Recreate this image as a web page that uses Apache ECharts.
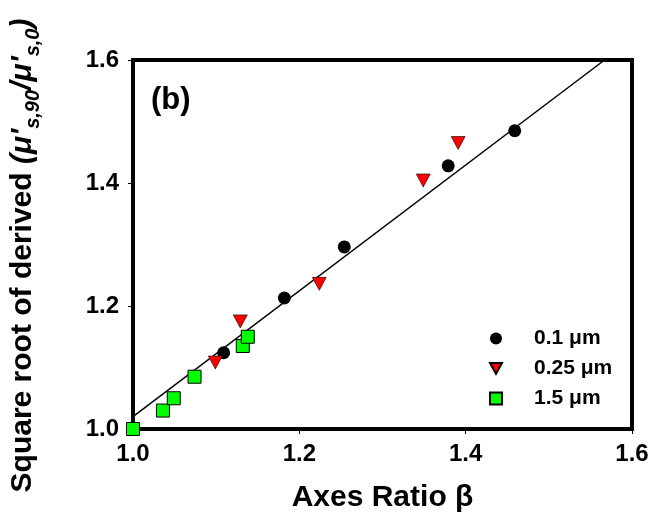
<!DOCTYPE html>
<html>
<head>
<meta charset="utf-8">
<script src="https://cdn.jsdelivr.net/npm/echarts@6/dist/echarts.min.js"></script>
<style>
  html, body { margin: 0; padding: 0; background: #fff; }
  #chart { width: 653px; height: 527px; }
</style>
</head>
<body>
<div id="chart"></div>
<script>
// Axes ratio (beta) vs. square root of derived scattering ratio
var xTicks = [1.0, 1.2, 1.4, 1.6];
var yTicks = [1.0, 1.2, 1.4, 1.6];

var beta01 = [1.109, 1.182, 1.254, 1.379, 1.459];
var ratio01 = [1.124, 1.213, 1.296, 1.428, 1.485];

var beta025 = [1.099, 1.129, 1.224, 1.349, 1.391];
var ratio025 = [1.108, 1.175, 1.236, 1.404, 1.465];

var beta15 = [1.0, 1.036, 1.049, 1.074, 1.132, 1.138];
var ratio15 = [1.0, 1.030, 1.050, 1.085, 1.135, 1.150];

// linear fit endpoints
var fitX = [1.0, 1.567];
var fitY = [1.020, 1.6];

var seriesNames = ['0.1 μm', '0.25 μm', '1.5 μm'];

function pairs(xs, ys) {
  return xs.map(function (x, i) { return [x, ys[i]]; });
}

var FONT = "'Liberation Sans', Arial, sans-serif";
var downTriangle = 'path://M0,0 L10,0 L5,9 Z';

var chart = echarts.init(document.getElementById('chart'), null, { renderer: 'canvas' });

var axisCommon = {
  min: xTicks[0],
  max: xTicks[xTicks.length - 1],
  interval: 0.2,
  axisLine: { show: true, onZero: false, lineStyle: { color: '#000', width: 4 } },
  axisTick: { show: true, inside: false, length: 5, lineStyle: { color: '#000', width: 1 } },
  splitLine: { show: false },
  axisLabel: {
    color: '#000',
    fontFamily: FONT,
    fontWeight: 'bold',
    fontSize: 24,
    formatter: function (v) { return v.toFixed(1); }
  },
  nameLocation: 'middle'
};

chart.setOption({
  animation: false,
  backgroundColor: '#fff',
  grid: {
    left: 119, right: 21, top: 60, bottom: 98,
    show: true, borderColor: '#000', borderWidth: 4, backgroundColor: 'transparent'
  },
  xAxis: Object.assign({}, axisCommon, {
    type: 'value',
    name: 'Axes Ratio β',
    nameGap: 54,
    nameTextStyle: { color: '#000', fontFamily: FONT, fontWeight: 'bold', fontSize: 30 },
    axisLabel: Object.assign({}, axisCommon.axisLabel, { margin: 13 })
  }),
  yAxis: Object.assign({}, axisCommon, {
    type: 'value',
    min: yTicks[0],
    max: yTicks[yTicks.length - 1],
    name: '{n|Square root of derived }{i|(μ\'}{s|s,90}{i|/μ\'}{s|s,0}{i|)}',
    nameRotate: 90,
    nameGap: 90,
    nameTextStyle: {
      color: '#000',
      padding: [0, 22, 0, 0],
      rich: {
        n: { fontFamily: FONT, fontWeight: 'bold', fontSize: 30, lineHeight: 40, verticalAlign: 'middle', color: '#000' },
        i: { fontFamily: FONT, fontWeight: 'bold', fontStyle: 'italic', fontSize: 30, lineHeight: 40, verticalAlign: 'middle', color: '#000' },
        s: { fontFamily: FONT, fontWeight: 'bold', fontStyle: 'italic', fontSize: 20, lineHeight: 20, verticalAlign: 'bottom', color: '#000' }
      }
    },
    axisLabel: Object.assign({}, axisCommon.axisLabel, { margin: 14 })
  }),
  legend: {
    orient: 'vertical',
    left: 484,
    top: 323,
    itemWidth: 12,
    itemHeight: 12,
    itemGap: 9,
    data: seriesNames,
    textStyle: { color: '#000', fontFamily: FONT, fontWeight: 'bold', fontSize: 21, padding: [0, 0, 0, 27] }
  },
  graphic: [{
    type: 'text',
    x: 151,
    y: 100,
    style: { text: '(b)', fill: '#000', font: 'bold 31px ' + FONT, verticalAlign: 'middle', align: 'left' }
  }],
  series: [
    {
      name: 'fit',
      type: 'line',
      data: pairs(fitX, fitY),
      showSymbol: false,
      symbol: 'none',
      lineStyle: { color: '#000', width: 1.5 },
      z: 1
    },
    {
      name: seriesNames[0],
      type: 'scatter',
      data: pairs(beta01, ratio01),
      symbol: 'circle',
      symbolSize: 13,
      itemStyle: { color: '#000', borderColor: '#000', borderWidth: 0, opacity: 1 },
      z: 3
    },
    {
      name: seriesNames[1],
      type: 'scatter',
      data: pairs(beta025, ratio025),
      symbol: downTriangle,
      symbolSize: [14, 13],
      itemStyle: { color: '#ff0000', borderColor: '#000', borderWidth: 0.6, opacity: 1 },
      z: 3
    },
    {
      name: seriesNames[2],
      type: 'scatter',
      data: pairs(beta15, ratio15),
      symbol: 'rect',
      symbolSize: 13,
      itemStyle: { color: '#00ff00', borderColor: '#000', borderWidth: 1, opacity: 1 },
      z: 3
    }
  ]
});
</script>
</body>
</html>
